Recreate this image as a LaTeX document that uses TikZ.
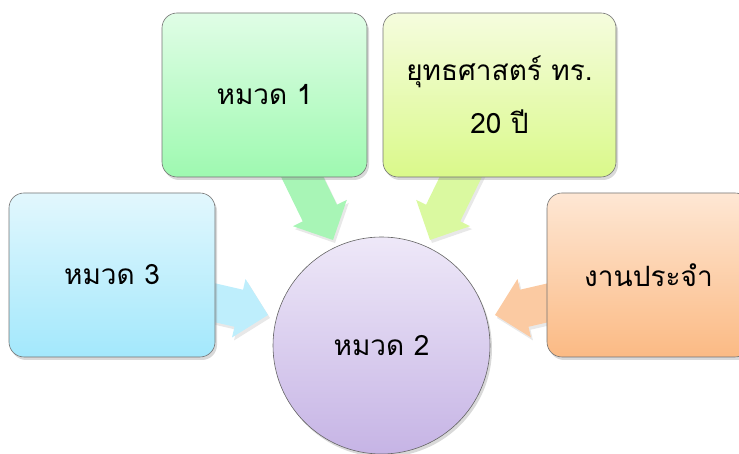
\documentclass[tikz,border=0pt]{standalone}
\usepackage{fontspec}
\newfontfamily\thaifont[Script=Thai]{Loma}
\usetikzlibrary{shadows}
\definecolor{gTop}{RGB}{224,253,230}
\definecolor{gBot}{RGB}{158,249,176}
\definecolor{yTop}{RGB}{245,252,222}
\definecolor{yBot}{RGB}{218,249,138}
\definecolor{bTop}{RGB}{226,247,253}
\definecolor{bBot}{RGB}{163,232,252}
\definecolor{oTop}{RGB}{254,231,212}
\definecolor{oBot}{RGB}{251,186,132}
\definecolor{cTop}{RGB}{238,232,248}
\definecolor{cBot}{RGB}{198,180,229}
\definecolor{gArr}{RGB}{168,245,182}
\definecolor{yArr}{RGB}{218,249,160}
\definecolor{bArr}{RGB}{190,238,252}
\definecolor{oArr}{RGB}{251,202,162}
\newcommand\blockarrow[3]{%
  \begin{scope}[shift={(#1)}, rotate=#2]
    \fill[#3, arrshadow] (0,0) -- (-30,30) -- (-30,19) -- (-100,19)
      -- (-100,-19) -- (-30,-19) -- (-30,-30) -- cycle;
  \end{scope}}
\begin{document}
\begin{tikzpicture}[x=1pt,y=1pt,
  arrshadow/.style={drop shadow={shadow xshift=2pt, shadow yshift=-3pt, opacity=0.18}},
  box/.style={draw=black!55, line width=0.6pt, rounded corners=15pt,
    minimum height=164pt, inner sep=0pt, align=center,
    font=\thaifont\fontsize{28}{53}\selectfont,
    drop shadow={shadow xshift=2pt, shadow yshift=-3pt, opacity=0.3}},
  hub/.style={circle, draw=black!60, line width=0.6pt, minimum size=217pt,
    inner sep=0pt, font=\thaifont\fontsize{28}{34}\selectfont,
    drop shadow={shadow xshift=2pt, shadow yshift=-3pt, opacity=0.3}}]
\useasboundingbox (0,0) rectangle (739,454);
\clip (0,0) rectangle (739,454);
% arrow tips
\coordinate (gtip) at (333,214);
\coordinate (ytip) at (430,214);
\coordinate (btip) at (268,139);
\coordinate (otip) at (495,139);
\blockarrow{gtip}{-64}{gArr}
\blockarrow{ytip}{-116}{yArr}
\blockarrow{btip}{-13}{bArr}
\blockarrow{otip}{-167}{oArr}
% boxes
\node[box, minimum width=205pt, top color=gTop, bottom color=gBot] (h1) at (264.5,359) {หมวด 1};
\node[box, minimum width=233pt, top color=yTop, bottom color=yBot] (ys) at (499.5,359) {ยุทธศาสตร์ ทร.\\20 ปี};
\node[box, minimum width=206pt, top color=bTop, bottom color=bBot] (h3) at (112,179) {หมวด 3};
\node[box, minimum width=203pt, top color=oTop, bottom color=oBot] (rt) at (648.5,179) {งานประจำ};
\node[hub, top color=cTop, bottom color=cBot] (h2) at (381.5,108.5) {หมวด 2};
\end{tikzpicture}
\end{document}
